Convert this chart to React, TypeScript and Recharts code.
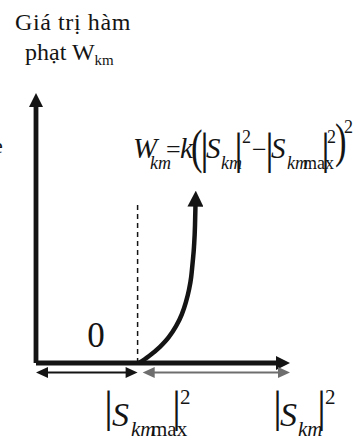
import { LineChart, Line, XAxis, YAxis, ReferenceLine } from 'recharts';

// penalty curve W = k(|S|^2 - |Smax|^2)^2, rising from the limit point
const curveX = [4.05, 4.44, 4.87, 5.22, 5.49, 5.74, 5.89, 6.02, 6.11, 6.17, 6.22, 6.26, 6.28];
const curveY = [0, 0.25, 0.59, 0.95, 1.33, 1.8, 2.22, 2.7, 3.19, 3.75, 4.3, 5.1, 5.9];

const sMax = 4;
const xEnd = 10;
const yEnd = 10;
const spanY = -0.35;
const dashTop = 6;

const curve = curveX.map((x, i) => ({ x, y: curveY[i] }));

const SERIF = "'Liberation Serif', 'Times New Roman', serif";
const INK = '#141414';

type ArrowOpts = { color: string; width: number; head: number; half: number; both?: boolean; dash?: string };

const arrowShape = (o: ArrowOpts) => (p: any) => {
  const { x1, y1, x2, y2 } = p;
  const dx = x2 - x1;
  const dy = y2 - y1;
  const len = Math.hypot(dx, dy) || 1;
  const ux = dx / len;
  const uy = dy / len;
  const nx = -uy;
  const ny = ux;
  const cut = o.head * 0.8;
  const head = (tx: number, ty: number, sx: number, sy: number) => {
    const bx = tx - sx * o.head;
    const by = ty - sy * o.head;
    return `${tx},${ty} ${bx + nx * o.half},${by + ny * o.half} ${bx - nx * o.half},${by - ny * o.half}`;
  };
  return (
    <g>
      <line
        x1={o.both ? x1 + ux * cut : x1}
        y1={o.both ? y1 + uy * cut : y1}
        x2={o.head ? x2 - ux * cut : x2}
        y2={o.head ? y2 - uy * cut : y2}
        stroke={o.color}
        strokeWidth={o.width}
        strokeDasharray={o.dash}
      />
      {o.head > 0 && <polygon points={head(x2, y2, ux, uy)} fill={o.color} />}
      {o.both && <polygon points={head(x1, y1, -ux, -uy)} fill={o.color} />}
    </g>
  );
};

const Bar = ({ x, y }: { x: number; y: number }) => (
  <text x={x} y={y} fontSize={45} fontFamily={SERIF} fill={INK}>|</text>
);

// tall, thin bracket
const Paren = ({ x, y, ch }: { x: number; y: number; ch: string }) => (
  <text transform={`translate(${x},${y}) scale(0.72,1)`} fontSize={48} fontFamily={SERIF} fill={INK}>{ch}</text>
);

export default function App() {
  return (
    <div style={{ position: 'absolute', left: 0, top: 0, width: 353, height: 443, background: '#fff' }}>
      <LineChart width={353} height={443} margin={{ top: 93, right: 63, bottom: 53, left: 36 }}>
        <XAxis type="number" dataKey="x" domain={[0, xEnd]} hide allowDataOverflow />
        <YAxis type="number" dataKey="y" domain={[-1, yEnd]} hide allowDataOverflow />
        <defs>
          <marker id="curveHead" viewBox="0 0 16 16" refX="3" refY="8" markerWidth="16" markerHeight="16"
            markerUnits="userSpaceOnUse" orient="auto">
            <path d="M0,0 L16,8 L0,16 z" fill={INK} />
          </marker>
        </defs>

        {/* axes */}
        <ReferenceLine segment={[{ x: 0, y: 0 }, { x: 0, y: yEnd }]} ifOverflow="visible"
          shape={arrowShape({ color: INK, width: 4.8, head: 14, half: 7 })} />
        <ReferenceLine segment={[{ x: 0, y: 0 }, { x: xEnd, y: 0 }]} ifOverflow="visible"
          shape={arrowShape({ color: INK, width: 4.8, head: 14, half: 7 })} />

        {/* limit marker */}
        <ReferenceLine segment={[{ x: sMax, y: 0 }, { x: sMax, y: dashTop }]} ifOverflow="visible"
          shape={arrowShape({ color: INK, width: 1.5, head: 0, half: 0, dash: '5 4' })} />

        {/* spans under the axis */}
        <ReferenceLine segment={[{ x: 0, y: spanY }, { x: sMax, y: spanY }]} ifOverflow="visible"
          shape={arrowShape({ color: INK, width: 2, head: 12, half: 5.5, both: true })} />
        <ReferenceLine segment={[{ x: sMax + 0.2, y: spanY }, { x: xEnd, y: spanY }]} ifOverflow="visible"
          shape={arrowShape({ color: '#6e6e6e', width: 2, head: 12, half: 5.5, both: true })} />

        <Line data={curve} dataKey="y" type="monotone" stroke={INK} strokeWidth={4.5} dot={false}
          markerEnd="url(#curveHead)" isAnimationActive={false} />

        <g fontFamily={SERIF} fill={INK}>
          <text x={-7} y={153} fontSize={22}>e</text>
          <text x={15} y={30} fontSize={24} letterSpacing={0.6}>Giá trị hàm</text>
          <text x={25} y={60} fontSize={24}>
            phạt W<tspan fontSize={15} dy={5}>km</tspan>
          </text>

          <text x={96} y={347} fontSize={35} textAnchor="middle">0</text>

          {/* formula */}
          <text x={133} y={158} fontSize={29} fontStyle="italic">W</text>
          <text x={150} y={169} fontSize={18} fontStyle="italic">km</text>
          <text x={166} y={158} fontSize={26}>=</text>
          <text x={180} y={158} fontSize={29} fontStyle="italic">k</text>
          <Paren x={191} y={163} ch="(" />
          <Bar x={200} y={164} />
          <text x={206} y={158} fontSize={29} fontStyle="italic">S</text>
          <text x={221} y={169} fontSize={18} fontStyle="italic">km</text>
          <Bar x={234} y={164} />
          <text x={242} y={143} fontSize={18}>2</text>
          <text x={252} y={158} fontSize={26}>−</text>
          <Bar x={265} y={164} />
          <text x={271} y={158} fontSize={29} fontStyle="italic">S</text>
          <text x={287} y={169} fontSize={18} fontStyle="italic">km</text>
          <text x={303} y={169} fontSize={18}>max</text>
          <Bar x={321} y={164} />
          <text x={327} y={143} fontSize={18}>2</text>
          <Paren x={335} y={157} ch=")" />
          <text x={344} y={133} fontSize={18}>2</text>

          {/* axis labels */}
          <Bar x={104} y={422} />
          <text x={112} y={426} fontSize={34} fontStyle="italic">S</text>
          <text x={131} y={436} fontSize={21} fontStyle="italic">km</text>
          <text x={151} y={436} fontSize={21}>max</text>
          <Bar x={172} y={422} />
          <text x={180} y={404} fontSize={21}>2</text>

          <Bar x={273} y={422} />
          <text x={280} y={426} fontSize={34} fontStyle="italic">S</text>
          <text x={298} y={436} fontSize={21} fontStyle="italic">km</text>
          <Bar x={317} y={422} />
          <text x={325} y={404} fontSize={21}>2</text>
        </g>
      </LineChart>
    </div>
  );
}
